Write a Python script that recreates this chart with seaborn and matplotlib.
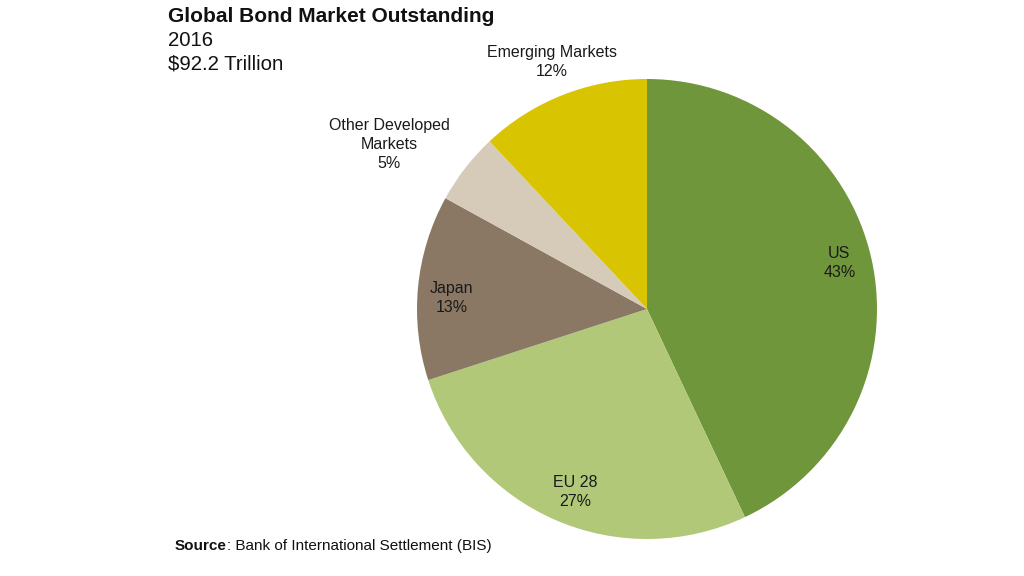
import numpy as np
import matplotlib
matplotlib.use("Agg")
import matplotlib.pyplot as plt
import seaborn as sns

sns.set_theme(style="white")
plt.rcParams['font.family'] = ['Liberation Sans', 'DejaVu Sans']

categories = ["US", "EU 28", "Japan", "Other Developed\nMarkets", "Emerging Markets"]
shares = [43, 27, 13, 5, 12]
colors = ["#70963c", "#b0c878", "#8a7865", "#d6cbb8", "#d8c400"]
label_dist = [0.86, 0.855, 0.85, 1.33, 1.15]
label_shift = [0.9, 1.9, 2.2, 5.3, -0.6]  # degrees

fig = plt.figure(figsize=(10.24, 5.76), dpi=100)
ax = fig.add_axes([417/1024, 37/576, 460/1024, 460/576])
wedges, _ = ax.pie(shares, colors=colors, startangle=90, counterclock=False,
                   radius=1.0, wedgeprops=dict(linewidth=0))
for w, cat, val, d, s in zip(wedges, categories, shares, label_dist, label_shift):
    ang = np.deg2rad((w.theta1 + w.theta2) / 2 + s)
    ax.text(d * np.cos(ang), d * np.sin(ang), f"{cat}\n{val}%", ha="center", va="center",
            fontsize=11.5, color="#1a1a1a", linespacing=1.32)
ax.set_xlim(-1, 1)
ax.set_ylim(-1, 1)
ax.set_aspect("equal")
ax.axis("off")

fig.text(168/1024, 1 - 16/576, "Global Bond Market Outstanding", fontsize=15,
         fontweight="bold", va="center", ha="left", color="#111111")
fig.text(168/1024, 1 - 40/576, "2016", fontsize=14.7, va="center", ha="left", color="#111111")
fig.text(168/1024, 1 - 64/576, "$92.2 Trillion", fontsize=14.7, va="center", ha="left", color="#111111")

t1 = fig.text(175/1024, 1 - 546/576, "Source", fontsize=11, fontweight="bold",
              va="center", ha="left", color="#111111")
fig.canvas.draw()
bb = t1.get_window_extent()
fig.text(bb.x1 / 1024, 1 - 546/576, ": Bank of International Settlement (BIS)", fontsize=11,
         va="center", ha="left", color="#111111")

fig.savefig("out.png", dpi=100)
